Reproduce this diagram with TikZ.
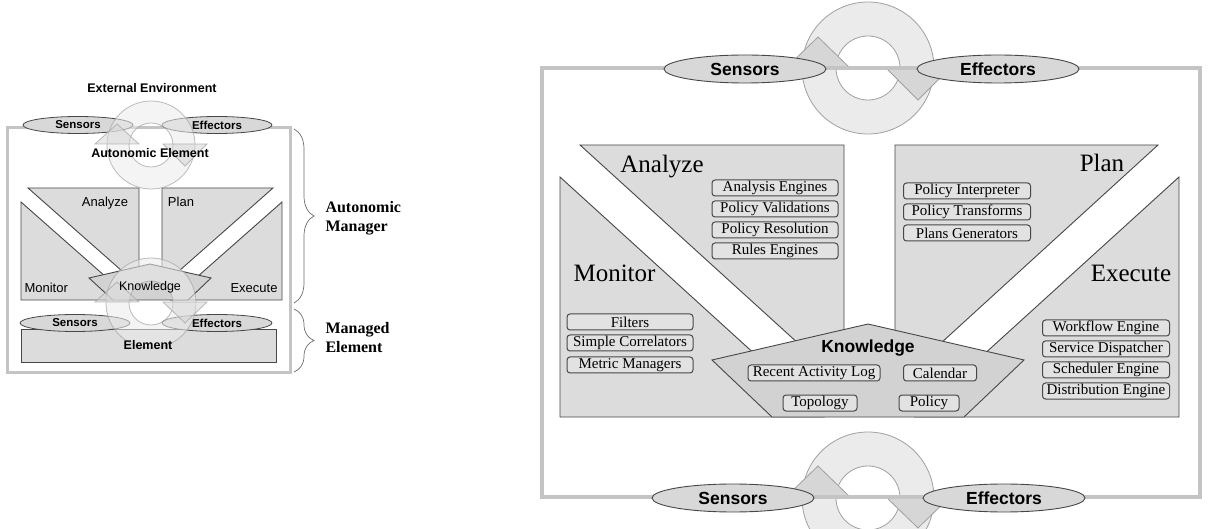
\documentclass[tikz,border=0pt]{standalone}
\usepackage{fontspec}
\setmainfont{Liberation Serif}
\setsansfont{Liberation Sans}
\usetikzlibrary{shapes.geometric,decorations.pathreplacing}
\definecolor{boxfill}{HTML}{DCDCDC}
\definecolor{itemfill}{HTML}{E2E2E2}
\definecolor{edge}{HTML}{474747}
\definecolor{framec}{HTML}{C4C4C4}
\definecolor{ringfill}{HTML}{EBEBEB}
\definecolor{ringedge}{HTML}{A0A0A0}
\definecolor{arrowfill}{HTML}{D6D6D6}
\definecolor{pentfill}{HTML}{D2D2D2}
\definecolor{ellfill}{HTML}{D8D8D8}
\begin{document}
\begin{tikzpicture}[x=1pt,y=-1pt,
  panel/.style={fill=boxfill,draw=edge,line width=0.9pt},
  pent/.style={fill=pentfill,draw=edge,line width=0.9pt},
  item/.style={draw=edge,fill=itemfill,rounded corners=3pt,line width=1pt,minimum height=16pt,inner sep=0pt,font=\fontsize{15}{16}\selectfont},
  bigell/.style={ellipse,draw=edge,fill=ellfill,line width=0.9pt,minimum width=162pt,minimum height=28pt,inner sep=0pt,font=\sffamily\bfseries\fontsize{17.5}{20}\selectfont},
  smell/.style={ellipse,draw=edge,fill=ellfill,line width=0.8pt,minimum width=110pt,minimum height=17pt,inner sep=0pt,font=\sffamily\bfseries\fontsize{11.5}{13}\selectfont},
  biglabel/.style={font=\fontsize{25}{28}\selectfont},
  smlabel/.style={font=\sffamily\fontsize{13}{15}\selectfont},
  smbold/.style={font=\sffamily\bfseries\fontsize{12.5}{14}\selectfont},
  sidelabel/.style={anchor=base west,font=\bfseries\fontsize{16}{18}\selectfont},
  ring/.style={fill=ringfill,draw=ringedge,line width=0.8pt,even odd rule},
  arrowtri/.style={fill=arrowfill,draw=ringedge,line width=0.8pt},
  frame/.style={draw=framec,line width=4pt},
  smframe/.style={draw=framec,line width=3pt},
  bracestyle/.style={draw=edge!80,line width=0.7pt,decorate,decoration={brace,amplitude=20pt}}
]
\useasboundingbox (0,0) rectangle (1208,529);
\clip (0,0) rectangle (1208,529);

% ================= big diagram =================
\path[ring] (868,68) circle (66pt) (868,68) circle (32pt);
\path[arrowtri] (786,68) -- (818,37) -- (850,68) -- cycle;
\path[arrowtri] (886,68) -- (918,100) -- (950,68) -- cycle;
\path[ring] (868,498) circle (66pt) (868,498) circle (32pt);
\path[arrowtri] (786,497) -- (818,466) -- (850,497) -- cycle;
\path[arrowtri] (886,497) -- (918,528) -- (950,497) -- cycle;
\draw[frame] (542,68) rectangle (1200,497);

\node[bigell] (bs1) at (745,69) {Sensors};
\node[bigell] (be1) at (998,69) {Effectors};
\node[bigell] (bs2) at (733,498) {Sensors};
\node[bigell] (be2) at (1004,498) {Effectors};

\path[panel] (580,145) -- (844,145) -- (844,385) -- cycle;
\path[panel] (895,145) -- (1158,145) -- (895,385) -- cycle;
\path[panel] (560,177) -- (824,417) -- (560,417) -- cycle;
\path[panel] (1179,177) -- (1179,417) -- (915,417) -- cycle;
\path[pent] (868,324) -- (1024,360) -- (964,417) -- (772,417) -- (712,360) -- cycle;

\node[biglabel,anchor=base] (lan) at (662,173) {Analyze};
\node[biglabel,anchor=base] (lpl) at (1102,172) {Plan};
\node[biglabel,anchor=base west] (lmo) at (570,282) {Monitor};
\node[biglabel,anchor=base] (lex) at (1131,282) {Execute};
\node[anchor=base,font=\sffamily\bfseries\fontsize{17.5}{20}\selectfont] (lkn) at (868,353) {Knowledge};

\node[item,minimum width=126pt] (a1) at (775,188) {Analysis Engines};
\node[item,minimum width=126pt] (a2) at (775,209) {Policy Validations};
\node[item,minimum width=126pt] (a3) at (775,230) {Policy Resolution};
\node[item,minimum width=126pt] (a4) at (775,251) {Rules Engines};

\node[item,minimum width=127pt] (p1) at (967,191) {Policy Interpreter};
\node[item,minimum width=127pt] (p2) at (967,212) {Policy Transforms};
\node[item,minimum width=127pt] (p3) at (967,233) {Plans Generators};

\node[item,minimum width=126pt] (m1) at (630,322) {Filters};
\node[item,minimum width=126pt] (m2) at (630,343) {Simple Correlators};
\node[item,minimum width=126pt] (m3) at (630,365) {Metric Managers};

\node[item,minimum width=127pt] (e1) at (1106,328) {Workflow Engine};
\node[item,minimum width=127pt] (e2) at (1106,349) {Service Dispatcher};
\node[item,minimum width=127pt] (e3) at (1106,370) {Scheduler Engine};
\node[item,minimum width=127pt] (e4) at (1106,391) {Distribution Engine};

\node[item,minimum width=132pt] (k1) at (814,373) {Recent Activity Log};
\node[item,minimum width=73pt] (k2) at (940,373) {Calendar};
\node[item,minimum width=74pt] (k3) at (820,403) {Topology};
\node[item,minimum width=60pt] (k4) at (929,403) {Policy};

% ================= small diagram =================
\draw[smframe] (7,128) rectangle (290,373);
\path[panel] (28,188) -- (139,188) -- (139,286) -- cycle;
\path[panel] (162,188) -- (273,188) -- (162,286) -- cycle;
\path[panel] (21,202) -- (21,300) -- (132,300) -- cycle;
\path[panel] (282,202) -- (282,300) -- (171,300) -- cycle;
\path[pent] (150,264) -- (211,278) -- (188,300) -- (113,300) -- (89,278) -- cycle;
\path[panel] (21,329) rectangle (276,362);

\node[smell] (ss1) at (78,125) {Sensors};
\node[smell] (se1) at (217,125) {Effectors};
\node[smell] (ss2) at (75,323) {Sensors};
\node[smell] (se2) at (217,323) {Effectors};

\begin{scope}[fill opacity=0.55,draw opacity=0.7]
\path[ring] (151,145) circle (44pt) (151,145) circle (22pt);
\path[arrowtri] (95,144) -- (117,124) -- (139,144) -- cycle;
\path[arrowtri] (163,144) -- (185,166) -- (207,144) -- cycle;
\path[ring] (151,303) circle (45pt) (151,303) circle (22pt);
\path[arrowtri] (95,302) -- (117,282) -- (139,302) -- cycle;
\path[arrowtri] (163,302) -- (185,323) -- (207,302) -- cycle;
\end{scope}

\node[smbold,anchor=base] (ext) at (152,93) {External Environment};
\node[smbold,anchor=base] (aue) at (150,158) {Autonomic Element};
\node[smbold,anchor=base] (ele) at (148,350) {Element};
\node[smlabel,anchor=base] (san) at (105,207) {Analyze};
\node[smlabel,anchor=base] (spl) at (181,207) {Plan};
\node[smlabel,anchor=base west] (smo) at (21,293) {Monitor};
\node[smlabel,anchor=base] (sex) at (254,293) {Execute};
\node[smlabel,anchor=base,font=\sffamily\fontsize{12.5}{14}\selectfont] (skn) at (150,291) {Knowledge};

\coordinate (b1a) at (294,129);
\coordinate (b1b) at (294,303);
\coordinate (b2a) at (294,309);
\coordinate (b2b) at (294,372);
\draw[bracestyle] (b1a) -- (b1b);
\draw[bracestyle] (b2a) -- (b2b);
\node[sidelabel] (am1) at (322,213) {Autonomic};
\node[sidelabel] (am2) at (322,232) {Manager};
\node[sidelabel] (me1) at (322,334) {Managed};
\node[sidelabel] (me2) at (322,353) {Element};
\end{tikzpicture}
\end{document}
